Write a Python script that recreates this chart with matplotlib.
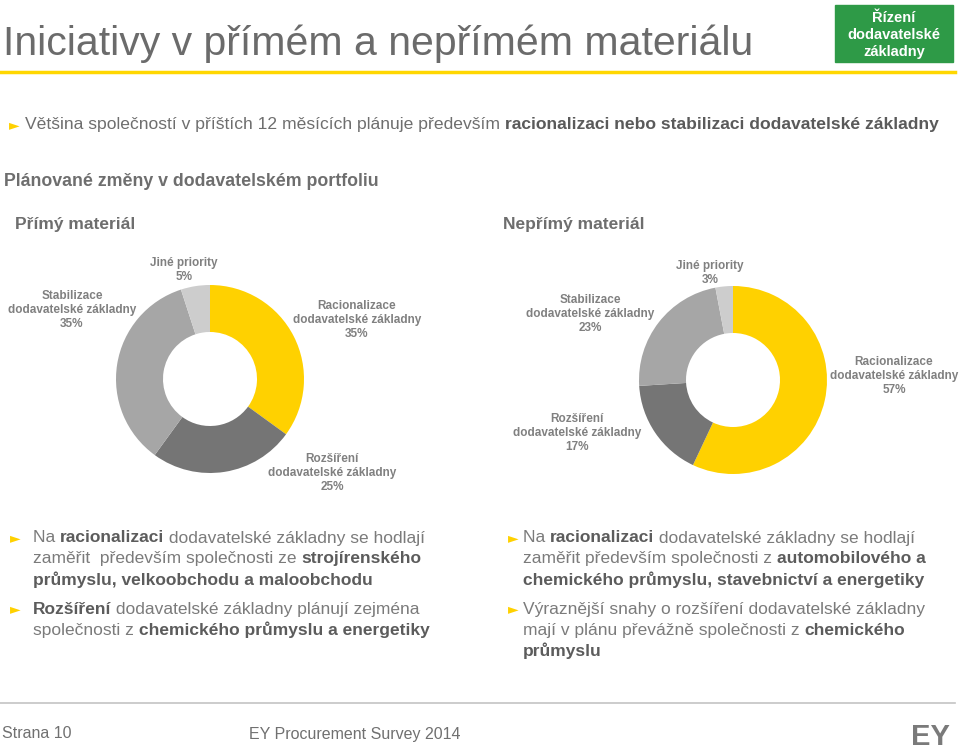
import matplotlib
matplotlib.use('Agg')
import matplotlib.pyplot as plt
from matplotlib.lines import Line2D
from matplotlib.patches import Rectangle

plt.rcParams['font.family'] = ['Liberation Sans', 'DejaVu Sans']

W, H = 960, 752

# data
categories = ['Racionalizace', 'Rozšíření', 'Stabilizace', 'Jiné priority']
direct_vals = [35, 25, 35, 5]
indirect_vals = [57, 17, 23, 3]
slice_colors = ['#FFD100', '#757575', '#A6A6A6', '#CDCDCD']

title = 'Iniciativy v přímém a nepřímém materiálu'
badge = 'Řízení\ndodavatelské\nzákladny'
intro = [('Většina společností v příštích 12 měsících plánuje především ', False),
         ('racionalizaci nebo stabilizaci dodavatelské základny', True)]
left_bullets = [
    [[('Na ', False), ('racionalizaci', True), (' dodavatelské základny se hodlají', False)],
     [('zaměřit  především společnosti ze ', False), ('strojírenského', True)],
     [('průmyslu, velkoobchodu a maloobchodu', True)]],
    [[('Rozšíření', True), (' dodavatelské základny plánují zejména', False)],
     [('společnosti z ', False), ('chemického průmyslu a energetiky', True)]],
]
right_bullets = [
    [[('Na ', False), ('racionalizaci', True), (' dodavatelské základny se hodlají', False)],
     [('zaměřit především společnosti z ', False), ('automobilového a', True)],
     [('chemického průmyslu, stavebnictví a energetiky', True)]],
    [[('Výraznější snahy o rozšíření dodavatelské základny', False)],
     [('mají v plánu převážně společnosti z ', False), ('chemického', True)],
     [('průmyslu', True)]],
]

fig = plt.figure(figsize=(W / 100, H / 100), dpi=100)
renderer = fig.canvas.get_renderer()


def fx(x):
    return x / W


def fy(y):
    return 1 - y / H


def rich(x, y, parts, size, normal='#7b7b7b', strong='#5c5c5c'):
    for txt, bold in parts:
        t = fig.text(fx(x), fy(y), txt, fontsize=size, va='center', ha='left',
                     color=strong if bold else normal,
                     fontweight='bold' if bold else 'normal')
        x += t.get_window_extent(renderer).width


def arrow(x, y):
    fig.text(fx(x), fy(y), '►', fontsize=10, color='#FFD100', va='center', ha='left',
             family='DejaVu Sans')


# header
fig.text(fx(3), fy(44), title, fontsize=29.5, color='#6b6b6b', va='center', ha='left')
fig.add_artist(Line2D([0, fx(955)], [fy(72), fy(72)], color='#FFD700', lw=2.5))
fig.add_artist(Rectangle((fx(835), fy(62)), fx(118), 57 / H, color='#2E9A47'))
fig.text(fx(894), fy(35), badge, fontsize=10.5, color='white', fontweight='bold',
         ha='center', va='center', linespacing=1.25)

arrow(9, 125)
rich(25, 125, intro, 12.6, normal='#6e6e6e', strong='#5a5a5a')

fig.text(fx(4), fy(182), 'Plánované změny v dodavatelském portfoliu', fontsize=12.8,
         fontweight='bold', color='#6e6e6e', va='center')
fig.text(fx(15), fy(225), 'Přímý materiál', fontsize=12.5, fontweight='bold',
         color='#6e6e6e', va='center')
fig.text(fx(503), fy(225), 'Nepřímý materiál', fontsize=12.5, fontweight='bold',
         color='#6e6e6e', va='center')


def donut(cx, cy, r, vals, label_pos):
    ax = fig.add_axes([fx(cx - r), fy(cy + r), 2 * r / W, 2 * r / H])
    ax.pie(vals, colors=slice_colors, startangle=90, counterclock=False,
           wedgeprops=dict(width=0.5, linewidth=0))
    ax.set_xlim(-1, 1)
    ax.set_ylim(-1, 1)
    ax.set_axis_off()
    for cat, v, (lx, ly) in zip(categories, vals, label_pos):
        if cat == 'Jiné priority':
            s = f'{cat}\n{v}%'
        else:
            s = f'{cat}\ndodavatelské základny\n{v}%'
        fig.text(fx(lx), fy(ly), s, fontsize=8.5, fontweight='bold', color='#808080',
                 ha='center', va='center', linespacing=1.2)


donut(210, 379, 94, direct_vals,
      [(357, 320), (332, 473), (72, 310), (184, 270)])
donut(733, 380, 94, indirect_vals,
      [(894, 376), (577, 433), (590, 314), (710, 273)])

# bottom bullets
for col_x, text_x, bullets in ((10, 33, left_bullets), (508, 523, right_bullets)):
    y = 538
    for b in bullets:
        arrow(col_x, y)
        for line in b:
            rich(text_x, y, line, 12.5)
            y += 20.8
        y += 9

# footer
fig.add_artist(Line2D([0, fx(955)], [fy(703), fy(703)], color='#C4C4C4', lw=1.2))
fig.text(fx(2), fy(734), 'Strana 10', fontsize=11.5, color='#707070', va='center')
fig.text(fx(249), fy(734), 'EY Procurement Survey 2014', fontsize=11.5, color='#707070',
         va='center')
fig.text(fx(950), fy(751), 'EY', fontsize=21, fontweight='bold', color='#7a7a7a',
         ha='right', va='bottom')

fig.savefig('out.png', dpi=100)
